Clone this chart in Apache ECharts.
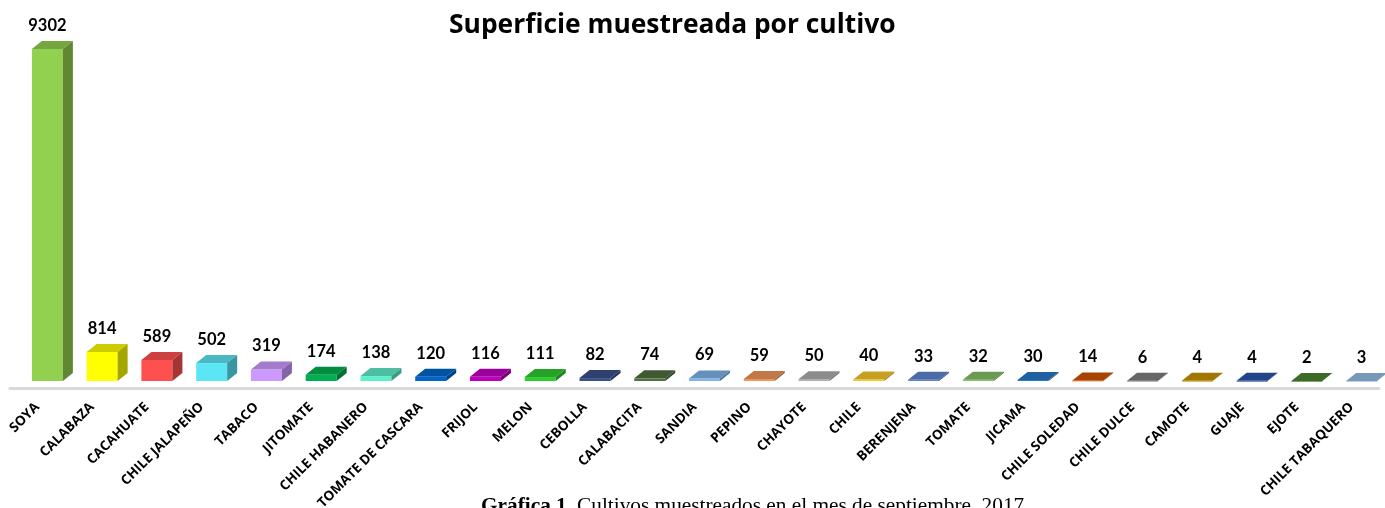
<!DOCTYPE html>
<html>
<head>
<meta charset="utf-8">
<script src="https://cdn.jsdelivr.net/npm/echarts@6/dist/echarts.min.js"></script>
<style>
html,body{margin:0;padding:0;background:#fff;}
#chart{width:1385px;height:508px;}
</style>
</head>
<body>
<div id="chart"></div>
<script>
const categories = ['SOYA','CALABAZA','CACAHUATE','CHILE JALAPEÑO','TABACO','JITOMATE','CHILE HABANERO','TOMATE DE CASCARA','FRIJOL','MELON','CEBOLLA','CALABACITA','SANDIA','PEPINO','CHAYOTE','CHILE','BERENJENA','TOMATE','JICAMA','CHILE SOLEDAD','CHILE DULCE','CAMOTE','GUAJE','EJOTE','CHILE TABAQUERO'];
const values = [9302, 814, 589, 502, 319, 174, 138, 120, 116, 111, 82, 74, 69, 59, 50, 40, 33, 32, 30, 14, 6, 4, 4, 2, 3];
const barColors = ['#92D050','#FFFF00','#FF5050','#5CE6F5','#CC99FF','#00B050','#5FEFC9','#0066CC','#C000C0','#2FCC2F','#3A508A','#4F7040','#80B4EB','#F0965A','#AFAFAF','#FAC828','#5C84D2','#84C064','#2878C8','#D25500','#808080','#C89600','#2A55AA','#4E8432','#96BEE6'];

function shade(hex, f){
  const n = parseInt(hex.slice(1),16);
  const r = Math.round(((n>>16)&255)*f), g = Math.round(((n>>8)&255)*f), b = Math.round((n&255)*f);
  return 'rgb('+r+','+g+','+b+')';
}

const chart = echarts.init(document.getElementById('chart'));
const option = {
  animation:false,
  backgroundColor:'#ffffff',
  title:[{
    text:'Superficie muestreada por cultivo',
    left:444, top:7,
    textStyle:{fontFamily:'Open Sans',fontWeight:'bold',fontSize:26.4,color:'#000'}
  },{
    text:'{b|Gráfica 1.} {n|Cultivos muestreados en el mes de septiembre, 2017}',
    left:476, top:491,
    textStyle:{fontWeight:'normal',rich:{
      b:{fontFamily:'Liberation Serif',fontWeight:'bold',fontSize:21.3,color:'#000'},
      n:{fontFamily:'Liberation Serif',fontWeight:'normal',fontSize:21.3,color:'#000'}
    }}
  }],
  grid:{left:10,right:6,top:31,bottom:120,containLabel:false,outerBoundsMode:'none'},
  xAxis:{
    type:'category',
    data:categories,
    axisTick:{show:false},
    axisLine:{lineStyle:{color:'#D9D9D9',width:3}},
    axisLabel:{interval:0,rotate:45,margin:17,fontFamily:'Open Sans',fontWeight:'bold',fontSize:13.5,color:'#000'}
  },
  yAxis:{type:'value',min:0,max:10000,show:false,splitLine:{show:false}},
  series:[{
    type:'custom',
    data:values.map((v,i)=>[i,v]),
    renderItem:function(params, api){
      const idx = api.value(0), v = api.value(1);
      const base = api.coord([idx,0]);
      const top = api.coord([idx,v]);
      const w = 31, dx = 10, dy = 8, off = 10, lift = 7;
      const x0 = base[0] + off - w/2, x1 = x0 + w;
      const yb = base[1] - lift, yt = top[1] - lift;
      const c = barColors[idx];
      return {type:'group',children:[
        {type:'rect',shape:{x:x0,y:yt,width:w,height:Math.max(yb-yt,0.8)},style:{fill:c}},
        {type:'polygon',shape:{points:[[x0,yt],[x0+dx,yt-dy],[x1+dx,yt-dy],[x1,yt]]},style:{fill:shade(c,0.8)}},
        {type:'polygon',shape:{points:[[x1,yt],[x1+dx,yt-dy],[x1+dx,yb-dy],[x1,yb]]},style:{fill:shade(c,0.65)}},
        {type:'text',style:{text:String(v),x:x0+w/2,y:yt-dy-7,align:'center',verticalAlign:'bottom',fontFamily:'Lato',fontWeight:'bold',fontSize:16.5,fill:'#000'}}
      ]};
    }
  }]
};
chart.setOption(option);
</script>
</body>
</html>
